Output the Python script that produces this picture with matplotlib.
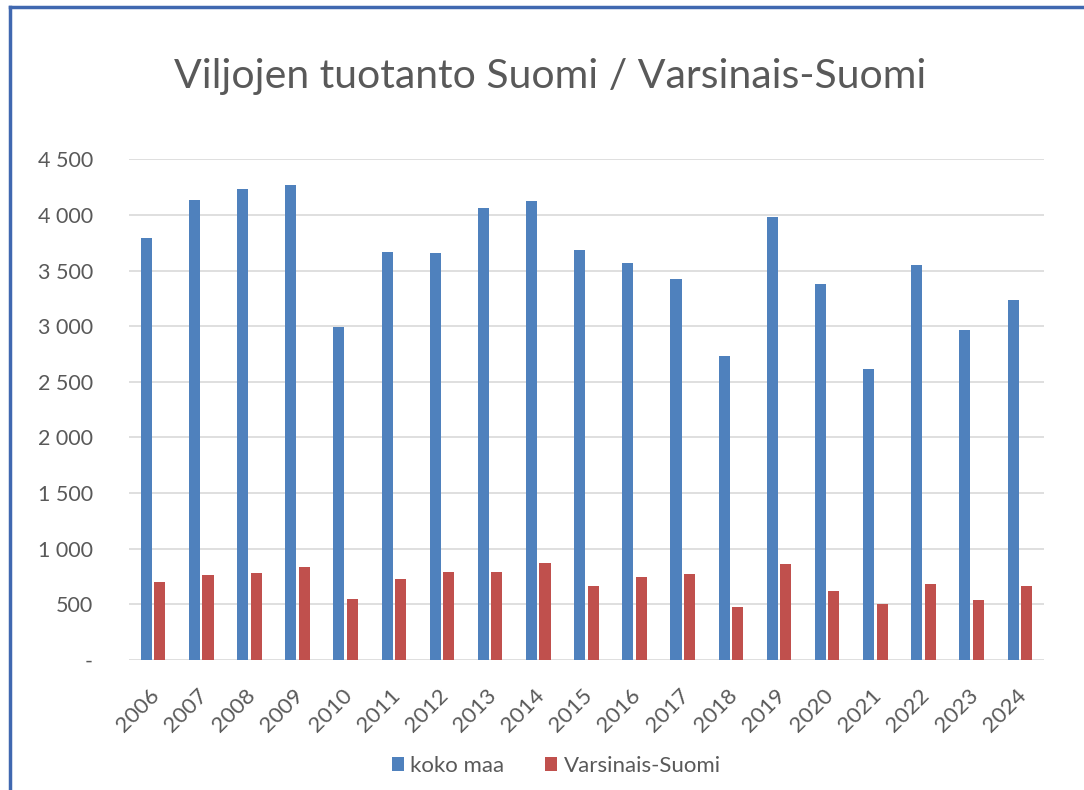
import numpy as np
import matplotlib.pyplot as plt
import matplotlib.transforms as mtransforms
from matplotlib.lines import Line2D

vuodet = ['2006', '2007', '2008', '2009', '2010', '2011', '2012', '2013', '2014', '2015',
          '2016', '2017', '2018', '2019', '2020', '2021', '2022', '2023', '2024']
koko_maa = [3790, 4134, 4230, 4266, 2991, 3666, 3660, 4065, 4128, 3684,
            3564, 3426, 2730, 3984, 3375, 2616, 3546, 2970, 3234]
varsinais_suomi = [699, 768, 783, 834, 546, 732, 789, 789, 867, 663,
                   744, 774, 480, 864, 618, 507, 687, 540, 669]
y_ticks = [0, 500, 1000, 1500, 2000, 2500, 3000, 3500, 4000, 4500]
y_labels = ['-', '500', '1 000', '1 500', '2 000', '2 500', '3 000', '3 500', '4 000', '4 500']

plt.rcParams['font.family'] = ['Lato', 'DejaVu Sans']
grey = '#595959'

fig = plt.figure(figsize=(10.84, 7.90), dpi=100)
ax = fig.add_axes([0.119, 0.1646, 0.844, 0.6338])

x = np.arange(len(vuodet))
ax.bar(x - 0.14, koko_maa, 0.23, color='#4F81BD', label='koko maa', zorder=3)
ax.bar(x + 0.14, varsinais_suomi, 0.23, color='#C0504D', label='Varsinais-Suomi', zorder=3)

ax.set_xlim(-0.5, len(vuodet) - 0.5)
ax.set_ylim(0, 4500)
ax.set_yticks(y_ticks)
ax.set_yticklabels(y_labels, color=grey, fontsize=15.5)
ax.set_xticks(x)
ax.set_xticklabels(vuodet, rotation=45, ha='right', rotation_mode='anchor', color=grey, fontsize=16)
ax.tick_params(length=0)
ax.tick_params(axis='y', pad=26)
ax.tick_params(axis='x', pad=18)
# nudge the slanted year labels a little to the left
shift = mtransforms.ScaledTranslation(-4 / 100, 0, fig.dpi_scale_trans)
for lab in ax.get_xticklabels():
    lab.set_transform(lab.get_transform() + shift)
ax.grid(axis='y', color='#D9D9D9', lw=1.2, zorder=0)
for s in ax.spines.values():
    s.set_visible(False)

fig.text(0.508, 0.903, 'Viljojen tuotanto Suomi / Varsinais-Suomi', ha='center', va='center',
         fontsize=29.5, color=grey)

fig.legend(loc='center', bbox_to_anchor=(0.513, 0.031), ncol=2, frameon=False, fontsize=16,
           handlelength=0.55, handleheight=0.6, handletextpad=0.3, columnspacing=1.8,
           labelcolor=grey)

# frame lines seen in the screenshot
fig.add_artist(Line2D([0.009, 1.0], [0.991, 0.991], color='#4068B0', lw=2.5))
fig.add_artist(Line2D([0.009, 0.009], [0.0, 0.991], color='#4068B0', lw=2.5))

fig.savefig('out.png', dpi=100)
